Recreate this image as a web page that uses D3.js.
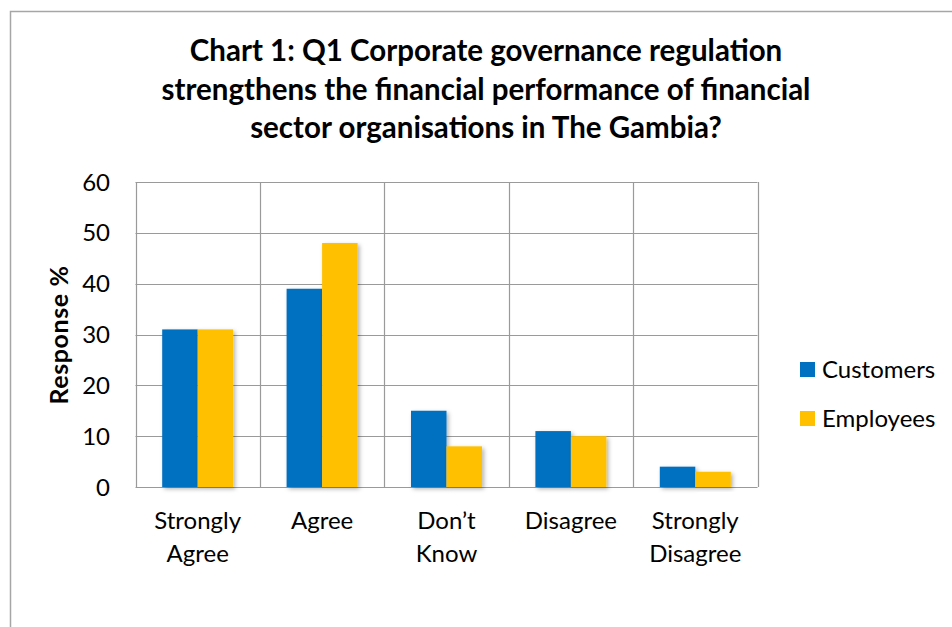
<!DOCTYPE html>
<html>
<head>
<meta charset="utf-8">
<script src="https://cdn.jsdelivr.net/npm/d3@7"></script>
<style>
  body { margin: 0; background: #fff; }
  svg { display: block; font-family: Lato, "Open Sans", sans-serif; }
</style>
</head>
<body>
<div id="chart"></div>
<script>
// data
var categories = [["Strongly", "Agree"], ["Agree"], ["Don\u2019t", "Know"], ["Disagree"], ["Strongly", "Disagree"]];
var seriesNames = ["Customers", "Employees"];
var customers = [31, 39, 15, 11, 4];
var employees = [31, 48, 8, 10, 3];
var yTicks = [0, 10, 20, 30, 40, 50, 60];
var titleLines = ["Chart 1: Q1 Corporate governance regulation",
                  "strengthens the financial performance of financial",
                  "sector organisations in The Gambia?"];

var colors = ["#0070C0", "#FFC000"];

var width = 952,
    height = 627;

var plot = { left: 135.5, right: 757.5, top: 182, bottom: 487 };

var svg = d3.select("#chart")
    .append("svg")
    .attr("width", width)
    .attr("height", height);

// drop shadow like the office chart
var defs = svg.append("defs");
var f = defs.append("filter").attr("id", "shadow")
    .attr("x", "-20%").attr("y", "-20%").attr("width", "150%").attr("height", "150%");
f.append("feDropShadow")
    .attr("dx", 2).attr("dy", 2).attr("stdDeviation", 2)
    .attr("flood-color", "#000").attr("flood-opacity", 0.3);

// outer chart border
svg.append("rect")
    .attr("x", 10.5).attr("y", 11.5)
    .attr("width", 970).attr("height", 640)
    .attr("fill", "none")
    .attr("stroke", "#a6a6a6")
    .attr("stroke-width", 1.5);

// title
svg.append("text")
    .attr("text-anchor", "middle")
    .style("font-weight", "bold")
    .style("font-size", "29.5px")
    .attr("fill", "#000")
    .selectAll("tspan")
    .data(titleLines)
    .enter()
    .append("tspan")
    .attr("x", 486)
    .attr("y", function (d, i) { return 61 + i * 38.5; })
    .text(function (d) { return d; });

var keys = categories.map(function (d, i) { return "c" + i; });

var x = d3.scaleBand()
    .domain(keys)
    .range([plot.left, plot.right]);

var xInner = d3.scaleBand()
    .domain(seriesNames)
    .range([0, x.bandwidth()])
    .paddingInner(0)
    .paddingOuter(0.752);

var y = d3.scaleLinear()
    .domain([0, 60])
    .range([plot.bottom, plot.top]);

// horizontal grid lines
svg.append("g")
    .selectAll("line")
    .data(yTicks)
    .enter()
    .append("line")
    .attr("x1", plot.left).attr("x2", plot.right)
    .attr("y1", function (d) { return Math.round(y(d)) + 0.5; })
    .attr("y2", function (d) { return Math.round(y(d)) + 0.5; })
    .attr("stroke", "#9a9a9a")
    .attr("stroke-width", 1.2);

// vertical grid lines at category borders
var borders = keys.map(function (k) { return x(k); }).concat([plot.right]);
svg.append("g")
    .selectAll("line")
    .data(borders)
    .enter()
    .append("line")
    .attr("x1", function (d) { return Math.round(d) + 0.5; })
    .attr("x2", function (d) { return Math.round(d) + 0.5; })
    .attr("y1", plot.top).attr("y2", plot.bottom)
    .attr("stroke", "#9a9a9a")
    .attr("stroke-width", 1.2);

// y tick labels
svg.append("g")
    .selectAll("text")
    .data(yTicks)
    .enter()
    .append("text")
    .attr("x", 110)
    .attr("y", function (d) { return y(d); })
    .attr("dy", "0.36em")
    .attr("text-anchor", "end")
    .style("font-size", "24px")
    .text(function (d) { return d; });

// y axis title
svg.append("text")
    .attr("transform", "translate(68,335) rotate(-90)")
    .attr("text-anchor", "middle")
    .style("font-weight", "bold")
    .style("font-size", "25px")
    .style("letter-spacing", "0.6px")
    .text("Response %");

// bars
var series = [customers, employees];
var groups = svg.append("g")
    .selectAll("g")
    .data(keys)
    .enter()
    .append("g")
    .attr("transform", function (d) { return "translate(" + x(d) + ",0)"; });

groups.selectAll("rect")
    .data(function (d, i) {
        return seriesNames.map(function (s, j) { return { name: s, value: series[j][i], j: j }; });
    })
    .enter()
    .append("rect")
    .attr("x", function (d) { return xInner(d.name); })
    .attr("width", xInner.bandwidth())
    .attr("y", function (d) { return y(d.value); })
    .attr("height", function (d) { return y(0) - y(d.value); })
    .attr("fill", function (d) { return colors[d.j]; })
    .attr("filter", "url(#shadow)");

// x labels
var xl = svg.append("g")
    .selectAll("text")
    .data(categories)
    .enter()
    .append("text")
    .attr("text-anchor", "middle")
    .style("font-size", "24px");

xl.selectAll("tspan")
    .data(function (d, i) { return d.map(function (t) { return { t: t, k: keys[i] }; }); })
    .enter()
    .append("tspan")
    .attr("x", function (d) { return x(d.k) + x.bandwidth() / 2; })
    .attr("y", function (d, i) { return 529 + i * 33; })
    .text(function (d) { return d.t; });

// legend
var legend = svg.append("g")
    .selectAll("g")
    .data(seriesNames)
    .enter()
    .append("g")
    .attr("transform", function (d, i) { return "translate(800," + (362 + i * 49) + ")"; });

legend.append("rect")
    .attr("width", 15).attr("height", 15)
    .attr("fill", function (d, i) { return colors[i]; });

legend.append("text")
    .attr("x", 22)
    .attr("y", 16)
    .style("font-size", "24px")
    .text(function (d) { return d; });
</script>
</body>
</html>
